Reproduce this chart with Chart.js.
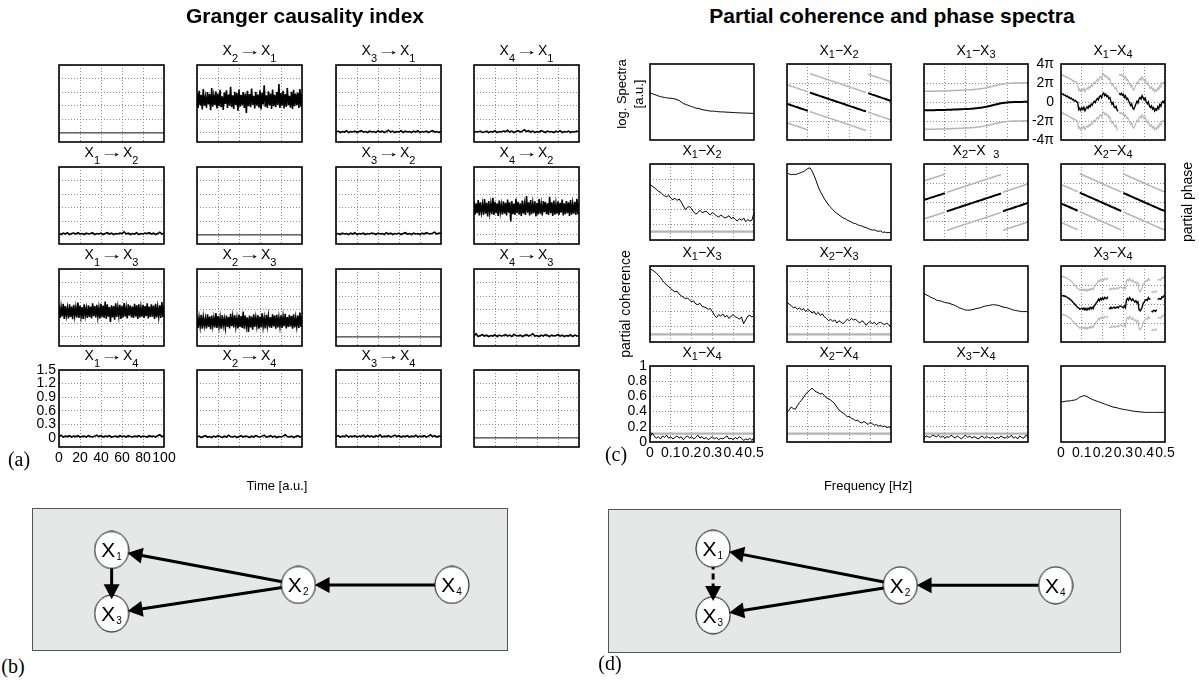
<!DOCTYPE html>
<html><head><meta charset="utf-8">
<script src="https://cdn.jsdelivr.net/npm/chart.js@4.4.1/dist/chart.umd.min.js"></script>
<style>
html,body{margin:0;padding:0;width:1199px;height:683px;overflow:hidden;background:#fff;position:relative}
.lbl{position:absolute;white-space:nowrap;font-family:"Liberation Sans",Arial,Helvetica,sans-serif;color:#000}
.lbl sub{line-height:0}
.arr{display:inline-block;font-size:15px;line-height:0;transform:scaleX(1.55);margin:0 4px}
.serif{font-family:"Liberation Serif","Times New Roman",serif}
</style></head><body>
<script>
// ---------------- DATA ----------------
// Granger causality index (time 0..100, a.u.)
const GC_TIME_TICKS = [0, 20, 40, 60, 80, 100];
const GC_Y_TICKS = [0, 0.3, 0.6, 0.9, 1.2, 1.5];
const GC_Y_LABELS = ['0', '0.3', '0.6', '0.9', '1.2', '1.5'];
const GC_SELF = [0, 0];
const GC_2to1 = [0.88,0.55,0.93,0.61,0.84,0.52,0.97,0.60,0.79,0.56,0.90,0.63,0.86,0.50,0.99,0.58,0.82,0.62,0.92,0.54,
0.87,0.59,0.95,0.57,0.81,0.51,0.89,0.64,0.94,0.55,0.85,0.60,1.02,0.57,0.83,0.53,0.91,0.62,0.88,0.49,
0.96,0.58,0.84,0.61,0.90,0.55,0.87,0.44,0.93,0.59,0.86,0.57,0.98,0.62,0.82,0.54,0.91,0.60,0.85,0.56,
0.94,0.52,0.89,0.63,1.05,0.58,0.83,0.55,0.92,0.61,0.87,0.53,0.96,0.59,0.84,0.57,0.90,0.62,1.08,0.55,
0.88,0.60,0.93,0.54,0.86,0.58,0.99,0.61,0.82,0.56,0.91,0.53,0.95,0.59,0.87,0.62,0.89,0.55,0.97,0.58,0.86];
const GC_3to1 = [0.02,0.04,0.01,0.03,0.02,0.05,0.01,0.03,0.02,0.04,0.01,0.03,0.05,0.02,0.03,0.01,0.04,0.02,0.03,0.01,0.05,0.02,0.04,0.01,0.03,0.06,0.02,0.04,0.01,0.03,0.02,0.05,0.01,0.04,0.02,0.03,0.01,0.04,0.02,0.05,0.01,0.03,0.02,0.04,0.01,0.03,0.05,0.02,0.03,0.01,0.04];
const GC_4to1 = [0.01,0.03,0.02,0.04,0.01,0.02,0.04,0.01,0.03,0.02,0.05,0.01,0.03,0.02,0.04,0.03,0.06,0.02,0.04,0.01,0.03,0.05,0.02,0.04,0.07,0.03,0.05,0.02,0.04,0.01,0.03,0.02,0.05,0.03,0.01,0.04,0.02,0.03,0.01,0.04,0.02,0.05,0.01,0.03,0.02,0.04,0.01,0.03,0.02,0.04,0.02];
const GC_1to2 = [0.03,0.01,0.04,0.02,0.05,0.01,0.03,0.04,0.02,0.05,0.02,0.03,0.01,0.04,0.02,0.03,0.05,0.01,0.03,0.02,0.04,0.01,0.03,0.05,0.02,0.04,0.01,0.03,0.02,0.04,0.03,0.07,0.02,0.04,0.01,0.03,0.02,0.05,0.01,0.03,0.02,0.04,0.03,0.05,0.02,0.04,0.01,0.03,0.06,0.02,0.04];
const GC_3to2 = [0.02,0.03,0.01,0.04,0.02,0.03,0.01,0.04,0.02,0.05,0.01,0.03,0.02,0.04,0.01,0.03,0.02,0.04,0.03,0.01,0.04,0.02,0.03,0.01,0.05,0.02,0.04,0.01,0.03,0.02,0.04,0.01,0.03,0.05,0.02,0.03,0.01,0.04,0.02,0.03,0.01,0.04,0.02,0.05,0.03,0.02,0.04,0.06,0.02,0.04,0.03];
const GC_4to2 = [0.74,0.45,0.70,0.48,0.77,0.43,0.72,0.50,0.68,0.44,0.79,0.47,0.71,0.41,0.75,0.49,0.69,0.46,0.82,0.44,
0.73,0.48,0.70,0.42,0.76,0.50,0.67,0.45,0.74,0.47,0.71,0.43,0.78,0.49,0.72,0.30,0.75,0.46,0.69,0.44,
0.80,0.48,0.73,0.45,0.70,0.42,0.76,0.47,0.68,0.44,0.86,0.49,0.72,0.43,0.77,0.46,0.70,0.48,0.74,0.41,
0.71,0.45,0.79,0.47,0.68,0.43,0.75,0.50,0.73,0.46,0.70,0.44,0.84,0.48,0.72,0.42,0.76,0.45,0.69,0.47,
0.74,0.44,0.71,0.49,0.78,0.43,0.70,0.46,0.75,0.48,0.72,0.42,0.77,0.45,0.69,0.47,0.73,0.44,0.80,0.46,0.71];
const GC_1to3 = [0.70,0.42,0.66,0.45,0.73,0.40,0.68,0.47,0.64,0.41,0.72,0.44,0.67,0.39,0.71,0.46,0.65,0.43,0.76,0.42,
0.69,0.45,0.66,0.40,0.72,0.47,0.63,0.42,0.70,0.44,0.67,0.41,0.74,0.46,0.68,0.43,0.71,0.45,0.65,0.41,
0.73,0.44,0.69,0.42,0.78,0.40,0.72,0.45,0.66,0.33,0.70,0.43,0.68,0.38,0.74,0.44,0.66,0.46,0.71,0.40,
0.68,0.43,0.75,0.45,0.65,0.41,0.72,0.47,0.69,0.43,0.67,0.42,0.73,0.45,0.70,0.40,0.72,0.43,0.66,0.45,
0.71,0.42,0.68,0.46,0.74,0.41,0.67,0.44,0.72,0.45,0.69,0.40,0.73,0.43,0.66,0.45,0.70,0.42,0.77,0.44,0.68];
const GC_2to3 = [0.46,0.20,0.43,0.23,0.49,0.18,0.44,0.25,0.41,0.19,0.50,0.22,0.45,0.17,0.47,0.24,0.42,0.21,0.53,0.20,
0.46,0.23,0.43,0.18,0.48,0.25,0.40,0.20,0.47,0.22,0.44,0.19,0.51,0.24,0.45,0.21,0.48,0.23,0.42,0.19,
0.49,0.22,0.46,0.20,0.56,0.18,0.47,0.23,0.43,0.11,0.47,0.21,0.45,0.16,0.50,0.22,0.43,0.24,0.48,0.18,
0.45,0.21,0.52,0.23,0.42,0.19,0.49,0.25,0.46,0.21,0.44,0.20,0.50,0.23,0.47,0.18,0.49,0.21,0.43,0.23,
0.48,0.20,0.45,0.24,0.51,0.19,0.44,0.22,0.49,0.23,0.46,0.18,0.50,0.21,0.43,0.23,0.47,0.20,0.54,0.22,0.45];
const GC_4to3 = [0.02,0.07,0.01,0.03,0.05,0.02,0.04,0.01,0.03,0.02,0.05,0.01,0.04,0.02,0.03,0.05,0.02,0.04,0.01,0.06,0.03,0.02,0.04,0.01,0.03,0.05,0.02,0.04,0.07,0.02,0.03,0.01,0.04,0.02,0.05,0.03,0.01,0.04,0.02,0.03,0.05,0.02,0.04,0.01,0.03,0.02,0.05,0.01,0.04,0.02,0.03];
const GC_1to4 = [0.03,0.06,0.02,0.04,0.03,0.05,0.02,0.04,0.03,0.05,0.02,0.03,0.04,0.02,0.05,0.03,0.02,0.04,0.06,0.03,0.05,0.02,0.04,0.03,0.05,0.02,0.03,0.04,0.02,0.05,0.03,0.04,0.02,0.05,0.03,0.02,0.04,0.03,0.05,0.02,0.04,0.03,0.02,0.05,0.03,0.04,0.02,0.05,0.07,0.03,0.04];
const GC_2to4 = [0.02,0.04,0.01,0.03,0.05,0.02,0.03,0.01,0.04,0.02,0.05,0.03,0.01,0.04,0.02,0.06,0.03,0.02,0.04,0.01,0.03,0.05,0.02,0.04,0.03,0.01,0.04,0.02,0.05,0.03,0.02,0.04,0.06,0.02,0.03,0.05,0.02,0.04,0.01,0.03,0.02,0.04,0.07,0.03,0.02,0.04,0.01,0.03,0.05,0.02,0.04];
const GC_3to4 = [0.03,0.05,0.02,0.04,0.03,0.06,0.02,0.04,0.03,0.05,0.02,0.04,0.03,0.06,0.02,0.05,0.03,0.04,0.02,0.05,0.03,0.07,0.02,0.04,0.03,0.05,0.02,0.04,0.06,0.03,0.05,0.02,0.04,0.03,0.05,0.02,0.04,0.03,0.06,0.02,0.04,0.03,0.05,0.02,0.04,0.07,0.03,0.05,0.02,0.04,0.03];

// Partial coherence / phase spectra (frequency 0..0.5 Hz)
const FREQ_TICKS = [0, 0.1, 0.2, 0.3, 0.4, 0.5];
const FREQ_LABELS = ['0', '0.1', '0.2', '0.3', '0.4', '0.5'];
const COH_TICKS = [0, 0.2, 0.4, 0.6, 0.8, 1];
const COH_LABELS = ['0', '0.2', '0.4', '0.6', '0.8', '1'];
const PHASE_TICKS = [-4, -2, 0, 2, 4];           // in units of pi
const PHASE_LABELS = ['-4π', '-2π', '0', '2π', '4π'];

const PSD_1 = [0.62,0.61,0.60,0.59,0.58,0.57,0.565,0.56,0.555,0.55,0.55,0.545,0.54,0.53,0.52,0.50,0.48,0.47,0.46,0.45,
0.44,0.43,0.42,0.415,0.41,0.40,0.395,0.39,0.385,0.38,0.38,0.378,0.375,0.372,0.37,0.37,0.368,0.366,0.365,0.363,
0.362,0.36,0.358,0.357,0.356,0.355,0.354,0.353,0.352,0.351,0.35];
const PSD_2 = [0.88,0.87,0.86,0.865,0.86,0.87,0.88,0.89,0.90,0.92,0.94,0.95,0.91,0.85,0.78,0.70,0.64,0.59,0.54,0.50,
0.46,0.43,0.40,0.37,0.35,0.33,0.31,0.29,0.28,0.26,0.25,0.235,0.22,0.215,0.20,0.19,0.185,0.17,0.165,0.15,
0.14,0.13,0.135,0.12,0.115,0.12,0.10,0.105,0.095,0.10,0.09];
const PSD_3 = [0.64,0.62,0.61,0.59,0.58,0.57,0.55,0.545,0.54,0.53,0.52,0.515,0.51,0.50,0.49,0.48,0.465,0.45,0.44,0.43,
0.42,0.42,0.42,0.425,0.43,0.44,0.445,0.45,0.46,0.47,0.475,0.48,0.485,0.49,0.49,0.485,0.48,0.47,0.46,0.455,
0.45,0.44,0.43,0.42,0.415,0.41,0.405,0.40,0.40,0.40,0.40];
const PSD_4 = [0.53,0.53,0.535,0.54,0.54,0.545,0.55,0.555,0.57,0.59,0.60,0.61,0.605,0.59,0.575,0.56,0.55,0.54,0.53,0.52,
0.51,0.50,0.49,0.48,0.47,0.46,0.455,0.45,0.44,0.435,0.43,0.425,0.42,0.415,0.41,0.405,0.40,0.40,0.395,0.395,
0.39,0.39,0.39,0.39,0.39,0.39,0.39,0.39,0.39,0.39,0.39];

const PCOH_12 = [0.73,0.71,0.69,0.67,0.64,0.63,0.60,0.58,0.57,0.59,0.55,0.53,0.55,0.52,0.54,0.50,0.45,0.40,0.43,0.44,
0.41,0.37,0.34,0.36,0.39,0.36,0.37,0.38,0.35,0.33,0.36,0.34,0.32,0.30,0.33,0.31,0.29,0.30,0.32,0.28,
0.30,0.27,0.25,0.28,0.26,0.29,0.24,0.27,0.25,0.26,0.36];
const PCOH_13 = [0.96,0.95,0.93,0.91,0.88,0.85,0.81,0.78,0.75,0.73,0.70,0.68,0.66,0.67,0.63,0.61,0.59,0.57,0.58,0.55,
0.53,0.54,0.50,0.49,0.51,0.47,0.46,0.45,0.43,0.44,0.40,0.35,0.32,0.36,0.34,0.37,0.33,0.35,0.31,0.34,
0.36,0.33,0.32,0.30,0.33,0.24,0.29,0.34,0.35,0.33,0.35];
const PCOH_14 = [0.06,0.12,0.08,0.05,0.07,0.04,0.08,0.06,0.09,0.05,0.07,0.04,0.06,0.08,0.05,0.07,0.03,0.06,0.08,0.05,
0.07,0.04,0.06,0.09,0.05,0.07,0.04,0.06,0.03,0.05,0.07,0.04,0.06,0.03,0.05,0.04,0.06,0.08,0.04,0.05,
0.03,0.06,0.04,0.07,0.05,0.02,0.04,0.03,0.05,0.02,0.06];
const PCOH_23 = [0.52,0.50,0.48,0.45,0.46,0.43,0.45,0.42,0.44,0.40,0.43,0.41,0.38,0.40,0.36,0.39,0.35,0.37,0.33,0.31,
0.28,0.30,0.27,0.29,0.25,0.28,0.26,0.24,0.27,0.30,0.28,0.31,0.29,0.30,0.27,0.25,0.28,0.26,0.22,0.25,
0.27,0.24,0.26,0.23,0.25,0.26,0.24,0.23,0.25,0.22,0.21];
const PCOH_24 = [0.39,0.42,0.46,0.44,0.43,0.48,0.52,0.55,0.59,0.63,0.66,0.68,0.71,0.68,0.66,0.65,0.63,0.64,0.61,0.58,
0.57,0.55,0.53,0.50,0.46,0.42,0.40,0.38,0.36,0.33,0.34,0.31,0.30,0.28,0.29,0.26,0.25,0.27,0.25,0.23,
0.26,0.24,0.22,0.23,0.21,0.22,0.20,0.21,0.19,0.20,0.18];
const PCOH_34 = [0.05,0.08,0.07,0.06,0.09,0.08,0.07,0.09,0.06,0.08,0.05,0.07,0.06,0.09,0.07,0.05,0.08,0.06,0.04,0.07,
0.09,0.06,0.08,0.05,0.07,0.06,0.04,0.06,0.08,0.05,0.07,0.06,0.05,0.07,0.04,0.06,0.05,0.08,0.06,0.05,
0.07,0.06,0.09,0.05,0.07,0.04,0.08,0.06,0.05,0.09,0.07];
const SIG_12 = 0.11, SIG_13 = 0.10, SIG_14 = 0.11, SIG_23 = 0.10, SIG_24 = 0.11, SIG_34 = 0.11;

// partial phase, wrapped to [-pi, pi], in units of pi
const PHASE_12 = [-0.19,-0.26,-0.34,-0.41,-0.49,-0.56,-0.63,-0.71,-0.78,-0.86,-0.93,0.99,0.92,0.84,0.77,0.70,0.62,0.55,0.47,0.40,
0.33,0.25,0.18,0.10,0.03,-0.04,-0.12,-0.19,-0.26,-0.34,-0.41,-0.49,-0.56,-0.63,-0.71,-0.78,-0.86,-0.93,-0.99,0.93,
0.86,0.78,0.71,0.64,0.56,0.49,0.41,0.34,0.27,0.19,0.12];
const PHASE_13 = [-0.88,-0.88,-0.87,-0.87,-0.86,-0.86,-0.85,-0.85,-0.84,-0.84,-0.83,-0.82,-0.82,-0.81,-0.80,-0.79,-0.78,-0.77,-0.76,-0.75,
-0.74,-0.73,-0.72,-0.70,-0.68,-0.66,-0.64,-0.61,-0.58,-0.54,-0.50,-0.45,-0.40,-0.34,-0.28,-0.23,-0.18,-0.14,-0.10,-0.07,
-0.05,-0.03,-0.02,-0.01,0.00,0.00,0.01,0.01,0.02,0.02,0.02];
const PHASE_14 = [0.92,0.80,0.86,0.70,0.74,0.58,0.64,0.46,0.52,0.35,0.40,0.22,0.28,0.10,0.16,0.02,-0.03,-0.80,-0.65,-0.88,
-0.62,-0.80,-0.55,-0.92,-0.68,-0.50,-0.66,-0.38,-0.52,-0.22,-0.34,-0.08,0.08,-0.06,0.24,0.38,0.22,0.58,0.66,0.44,
0.84,0.95,0.68,0.82,0.56,0.66,0.34,0.46,0.05,-0.24,-0.06,-0.48,-0.62,-0.46,-0.88,-0.98,0.93,0.78,0.92,0.70,
0.82,0.48,0.66,0.28,0.40,0.12,-0.14,-0.38,-0.20,-0.64,-0.76,-0.50,-0.22,0.08,-0.10,0.32,0.48,0.30,0.66,0.44,
0.22,0.40,0.02,-0.18,0.02,-0.44,-0.58,-0.40,-0.74,-0.58,-0.94,-0.72,-0.86,-0.50,-0.70,-0.26,-0.44,-0.06,0.08,-0.10,0.22];
const PHASE_23 = [0.22,0.29,0.36,0.43,0.50,0.57,0.64,0.71,0.78,0.86,0.93,-0.98,-0.91,-0.84,-0.77,-0.69,-0.62,-0.55,-0.48,-0.40,
-0.33,-0.26,-0.19,-0.12,-0.04,0.03,0.10,0.17,0.24,0.32,0.39,0.46,0.53,0.61,0.68,0.75,0.82,0.90,-0.97,-0.90,
-0.82,-0.75,-0.68,-0.61,-0.53,-0.46,-0.39,-0.31,-0.24,-0.17,-0.10];
const PHASE_24 = [-0.15,-0.25,-0.34,-0.44,-0.53,-0.63,-0.73,-0.82,-0.92,0.98,0.89,0.79,0.69,0.60,0.50,0.40,0.31,0.21,0.11,0.02,
-0.08,-0.18,-0.27,-0.37,-0.47,-0.56,-0.66,-0.76,-0.85,-0.95,0.95,0.86,0.76,0.66,0.57,0.47,0.37,0.28,0.18,0.08,
-0.01,-0.11,-0.21,-0.30,-0.40,-0.50,-0.59,-0.69,-0.79,-0.86,-0.92];
const PHASE_34 = [0.92,0.86,0.90,0.80,0.85,0.74,0.72,0.60,0.58,0.44,0.40,0.24,0.12,0.02,-0.14,-0.20,-0.38,-0.40,-0.54,-0.52,
-0.44,-0.56,-0.42,-0.62,-0.46,-0.64,-0.44,-0.58,-0.36,-0.52,-0.34,-0.48,-0.16,-0.08,0.14,0.26,0.50,0.34,0.60,0.44,
0.64,0.48,0.70,0.62,0.56,0.78,-0.42,-0.50,-0.34,-0.48,-0.40,-0.32,-0.46,-0.38,-0.30,-0.42,-0.26,-0.20,-0.24,-0.32,
-0.38,-0.22,-0.40,0.44,0.58,0.42,0.68,0.50,0.36,0.54,0.36,0.22,0.34,0.12,0.24,-0.58,-0.72,-0.56,-0.34,0.08,
0.18,0.40,0.46,0.38,0.68,0.50,0.54,-0.74,-0.82,-0.66,-0.70,-0.78,-0.58,0.48,0.58,0.54,0.50,0.74,0.70,0.88,0.95];

// Network graphs (node positions inside each box, px units)
const NET_B_X = [66.7, 268.7, 66.7, 434.7];
const NET_B_Y = [32, 78.7, 117, 78.7];
const NET_B_EDGES = [[2, 1, 0], [2, 3, 0], [4, 2, 0], [1, 3, 0]];   // from, to, dashed
const NET_D_X = [93.7, 295, 93.7, 462];
const NET_D_Y = [29, 77.7, 117.7, 77.7];
const NET_D_EDGES = [[2, 1, 0], [2, 3, 0], [4, 2, 0], [1, 3, 1]];

// ---------------- RENDERING ----------------
const FAM = '"Liberation Sans", Arial, Helvetica, sans-serif';
Chart.defaults.font.family = FAM;
Chart.defaults.color = '#000';

function addLabel(html, x, y, css) {
  const d = document.createElement('div');
  d.className = 'lbl';
  d.innerHTML = html;
  d.style.cssText = `left:${x}px;top:${y}px;` + (css || '');
  document.body.appendChild(d);
  return d;
}

const framePlugin = {
  id: 'frame',
  afterDraw(c) {
    const a = c.chartArea, ctx = c.ctx;
    ctx.save();
    ctx.strokeStyle = '#000'; ctx.lineWidth = 1.6;
    ctx.strokeRect(a.left, a.top, a.right - a.left, a.bottom - a.top);
    ctx.restore();
  }
};

function series(vals, x0, x1, shift) {
  const n = vals.length, pts = [];
  for (let i = 0; i < n; i++) {
    const x = x0 + (x1 - x0) * i / (n - 1);
    if (i > 0 && Math.abs(vals[i] - vals[i - 1]) > 1) pts.push({ x: x - (x1 - x0) / (n - 1) / 2, y: null });
    pts.push({ x, y: vals[i] + (shift || 0) });
  }
  return pts;
}
function line(data, color, width) {
  return { data, borderColor: color, borderWidth: width, pointRadius: 0, fill: false, tension: 0, spanGaps: false };
}

function makePanel(box, o) {
  const L = 46, T = 10, R = 20, B = 24;
  const W = box.w + L + R, H = box.h + T + B;
  const cv = document.createElement('canvas');
  cv.width = W; cv.height = H;
  cv.style.cssText = `position:absolute;left:${box.x - L}px;top:${box.y - T}px;width:${W}px;height:${H}px`;
  document.body.appendChild(cv);
  const axis = (ticks, labels, min, max, isX, pad) => ({
    type: 'linear', display: true, min, max,
    afterBuildTicks: s => { s.ticks = ticks.map(v => ({ value: v })); },
    afterFit: s => {
      if (isX) s.height = B; else s.width = L;
      s.paddingLeft = 0; s.paddingRight = 0; s.paddingTop = 0; s.paddingBottom = 0;
    },
    grid: { display: o.grid, color: '#8c8c8c', lineWidth: 1, drawTicks: false },
    border: { display: false, dash: [1, 2] },
    ticks: { display: !!labels, autoSkip: false, maxRotation: 0, minRotation: 0, padding: pad, color: '#000',
      font: { size: 14, family: FAM }, callback: (v, i) => labels ? labels[i] : '' }
  });
  new Chart(cv, {
    type: 'line',
    data: { datasets: o.datasets },
    options: {
      responsive: false, animation: false, devicePixelRatio: 1, events: [],
      layout: { padding: { left: 0, top: T, right: R, bottom: 0 } },
      plugins: { legend: { display: false }, tooltip: { enabled: false } },
      scales: {
        x: axis(o.xt, o.xl, o.xmin, o.xmax, true, 3),
        y: axis(o.yt, o.yl, o.ymin, o.ymax, false, o.ypad || 3)
      }
    },
    plugins: [framePlugin]
  });
}

const SUB_L = 'style="font-size:11px;vertical-align:-7px"';
const SUB_R = 'style="font-size:11px;vertical-align:-3px"';

// ---- Granger causality block (row = target, column = source)
const GC_COL_X = [59, 197, 336, 474], GC_ROW_Y = [65, 167, 269, 370];
const GC_SERIES = [
  [GC_SELF, GC_2to1, GC_3to1, GC_4to1],
  [GC_1to2, GC_SELF, GC_3to2, GC_4to2],
  [GC_1to3, GC_2to3, GC_SELF, GC_4to3],
  [GC_1to4, GC_2to4, GC_3to4, GC_SELF]
];
for (let r = 0; r < 4; r++) for (let c = 0; c < 4; c++) {
  const box = { x: GC_COL_X[c], y: GC_ROW_Y[r], w: 105, h: 77 };
  const diag = r === c;
  const bottomLeft = r === 3 && c === 0;
  makePanel(box, {
    grid: true,
    datasets: [line(series(GC_SERIES[r][c], 0, 100), diag ? '#444' : '#000', diag ? 1.2 : 1.6)],
    xt: GC_TIME_TICKS, xl: bottomLeft ? GC_TIME_TICKS.map(String) : null, xmin: 0, xmax: 100,
    yt: GC_Y_TICKS, yl: bottomLeft ? GC_Y_LABELS : null, ymin: -0.2, ymax: 1.5, ypad: 3
  });
  if (!diag) addLabel(`X<sub ${SUB_L}>${c + 1}</sub><span class="arr">→</span>X<sub ${SUB_L}>${r + 1}</sub>`,
    box.x + box.w / 2, box.y - 23, 'transform:translateX(-50%);font-size:14px;line-height:16px');
}

// ---- Partial coherence / phase block
const PC_COL_X = [650, 787, 924, 1061], PC_ROW_Y = [64, 164, 266, 366];
const PSD = [PSD_1, PSD_2, PSD_3, PSD_4];
const PCOH = { '1-2': [PCOH_12, SIG_12], '1-3': [PCOH_13, SIG_13], '1-4': [PCOH_14, SIG_14],
               '2-3': [PCOH_23, SIG_23], '2-4': [PCOH_24, SIG_24], '3-4': [PCOH_34, SIG_34] };
const PHASE = { '1-2': PHASE_12, '1-3': PHASE_13, '1-4': PHASE_14, '2-3': PHASE_23, '2-4': PHASE_24, '3-4': PHASE_34 };
for (let r = 0; r < 4; r++) for (let c = 0; c < 4; c++) {
  const box = { x: PC_COL_X[c], y: PC_ROW_Y[r], w: 104, h: 76 };
  const o = { xt: FREQ_TICKS, xl: null, xmin: 0, xmax: 0.5 };
  if (r === c) {
    Object.assign(o, { grid: false, datasets: [line(series(PSD[r], 0, 0.5), '#000', 1)],
      yt: [0, 1], yl: null, ymin: 0, ymax: 1 });
    if (r === 3) o.xl = FREQ_LABELS;
  } else if (r > c) {
    const [vals, sig] = PCOH[(c + 1) + '-' + (r + 1)];
    Object.assign(o, { grid: true, datasets: [
        line(series(vals, 0, 0.5), '#000', 1),
        line([{ x: 0, y: sig }, { x: 0.5, y: sig }], '#b4b4b4', 2.2)],
      yt: COH_TICKS, yl: null, ymin: 0, ymax: 1 });
    if (r === 3 && c === 0) { o.xl = FREQ_LABELS; o.yl = COH_LABELS; o.ypad = 3; }
  } else {
    const key = (r + 1) + '-' + (c + 1);
    const vals = PHASE[key];
    const noisy = vals.length > 60;
    Object.assign(o, { grid: true, datasets: [
        line(series(vals, 0, 0.5), '#000', noisy ? 1.4 : 2),
        line(series(vals, 0, 0.5, 2), '#b4b4b4', noisy ? 1.1 : 1.5),
        line(series(vals, 0, 0.5, -2), '#b4b4b4', noisy ? 1.1 : 1.5)],
      yt: PHASE_TICKS, yl: null, ymin: -4, ymax: 4 });
    if (r === 0 && c === 3) { o.yl = PHASE_LABELS; o.ypad = 7; }
  }
  makePanel(box, o);
  if (r !== c) {
    const a = Math.min(r, c) + 1, b = Math.max(r, c) + 1;
    const gap = (r === 1 && c === 2) ? '&nbsp;&nbsp;' : '';
    addLabel(`X<sub ${SUB_R}>${a}</sub>−X${gap}<sub ${SUB_R}>${b}</sub>`,
      box.x + box.w / 2, box.y - 22, 'transform:translateX(-50%);font-size:14px;line-height:16px');
  }
}

// ---- Network diagrams
const RX = 17, RY = 18.5, HEAD = 15, HALF = 8;
function ellR(ux, uy) { return 1 / Math.sqrt((ux / RX) ** 2 + (uy / RY) ** 2); }
function nodeImage() {
  const cv = document.createElement('canvas');
  cv.width = 2 * RX + 2; cv.height = 2 * RY + 2;
  const g = cv.getContext('2d');
  g.beginPath(); g.ellipse(RX + 1, RY + 1, RX, RY, 0, 0, Math.PI * 2);
  g.fillStyle = '#fff'; g.fill(); g.strokeStyle = '#000'; g.lineWidth = 1; g.stroke();
  return cv;
}
function makeNet(box, xs, ys, edges) {
  const cv = document.createElement('canvas');
  cv.width = box.w; cv.height = box.h;
  cv.style.cssText = `position:absolute;left:${box.x}px;top:${box.y}px;width:${box.w}px;height:${box.h}px`;
  document.body.appendChild(cv);
  const nodes = xs.map((x, i) => ({ x, y: ys[i] }));
  const arrows = edges.map(([f, t, dashed]) => {
    const a = nodes[f - 1], b = nodes[t - 1];
    const dx = b.x - a.x, dy = b.y - a.y, len = Math.hypot(dx, dy), ux = dx / len, uy = dy / len;
    const rs = ellR(ux, uy) + 1, re = ellR(ux, uy) + 0.5;
    const start = { x: a.x + ux * rs, y: a.y + uy * rs };
    const tip = { x: b.x - ux * re, y: b.y - uy * re };
    const shaftEnd = { x: tip.x - ux * (HEAD - 2), y: tip.y - uy * (HEAD - 2) };
    return { start, tip, shaftEnd, dashed };
  });
  const img = nodeImage();
  const netPlugin = {
    id: 'net',
    beforeDraw(c) {
      const ctx = c.ctx;
      ctx.save(); ctx.fillStyle = '#e6e7e7'; ctx.fillRect(0, 0, c.width, c.height);
      ctx.strokeStyle = '#555'; ctx.lineWidth = 1; ctx.strokeRect(0.5, 0.5, c.width - 1, c.height - 1); ctx.restore();
    },
    afterDatasetsDraw(c) {
      const ctx = c.ctx, sx = c.scales.x, sy = c.scales.y;
      ctx.save();
      arrows.forEach(a => {
        const tx = sx.getPixelForValue(a.tip.x), ty = sy.getPixelForValue(a.tip.y);
        const bx = sx.getPixelForValue(a.shaftEnd.x), by = sy.getPixelForValue(a.shaftEnd.y);
        const L = Math.hypot(tx - bx, ty - by), ux = (tx - bx) / L, uy = (ty - by) / L;
        const backX = tx - ux * HEAD, backY = ty - uy * HEAD;
        ctx.beginPath(); ctx.moveTo(tx, ty);
        ctx.lineTo(backX - uy * HALF, backY + ux * HALF);
        ctx.lineTo(backX + uy * HALF, backY - ux * HALF);
        ctx.closePath(); ctx.fillStyle = '#000'; ctx.fill();
      });
      ctx.fillStyle = '#000';
      nodes.forEach((n, i) => {
        const px = sx.getPixelForValue(n.x), py = sy.getPixelForValue(n.y);
        ctx.font = '21px ' + FAM; ctx.textAlign = 'center'; ctx.textBaseline = 'alphabetic';
        ctx.fillText('X', px - 3.5, py + 7.5);
        ctx.font = '10px ' + FAM; ctx.textAlign = 'left';
        ctx.fillText(String(i + 1), px + 4.5, py + 10.5);
      });
      ctx.restore();
    }
  };
  const datasets = [{ type: 'scatter', data: nodes, pointStyle: img, pointRadius: RX, showLine: false }];
  arrows.forEach(a => datasets.push({ type: 'line', data: [a.start, a.shaftEnd], borderColor: '#000', borderWidth: 3,
    borderDash: a.dashed ? [6, 4] : [], pointRadius: 0, fill: false, tension: 0 }));
  new Chart(cv, {
    type: 'scatter', data: { datasets },
    options: {
      responsive: false, animation: false, devicePixelRatio: 1, events: [],
      layout: { padding: 0 },
      plugins: { legend: { display: false }, tooltip: { enabled: false } },
      scales: { x: { type: 'linear', display: false, min: 0, max: box.w },
                y: { type: 'linear', display: false, min: 0, max: box.h, reverse: true } }
    },
    plugins: [netPlugin]
  });
}
makeNet({ x: 32, y: 508, w: 476, h: 143 }, NET_B_X, NET_B_Y, NET_B_EDGES);
makeNet({ x: 608, y: 509, w: 513, h: 144 }, NET_D_X, NET_D_Y, NET_D_EDGES);

// ---- Texts
addLabel('Granger causality index', 305, 4, 'transform:translateX(-50%);font-size:21px;font-weight:bold;line-height:24px');
addLabel('Partial coherence and phase spectra', 892, 4, 'transform:translateX(-50%);font-size:21px;font-weight:bold;line-height:24px');
addLabel('Time [a.u.]', 277, 485, 'transform:translate(-50%,-50%);font-size:13px');
addLabel('Frequency [Hz]', 868, 485, 'transform:translate(-50%,-50%);font-size:13px');
addLabel('log. Spectra', 621, 94, 'transform:translate(-50%,-50%) rotate(-90deg);font-size:13px');
addLabel('[a.u.]', 638, 94, 'transform:translate(-50%,-50%) rotate(-90deg);font-size:13px');
addLabel('partial coherence', 625, 304, 'transform:translate(-50%,-50%) rotate(-90deg);font-size:14px');
addLabel('partial phase', 1187, 202, 'transform:translate(-50%,-50%) rotate(-90deg);font-size:14px');
addLabel('(a)', 19, 459, 'transform:translate(-50%,-50%);font-size:20px').classList.add('serif');
addLabel('(c)', 616, 454, 'transform:translate(-50%,-50%);font-size:20px').classList.add('serif');
addLabel('(b)', 13, 666, 'transform:translate(-50%,-50%);font-size:20px').classList.add('serif');
addLabel('(d)', 610, 663, 'transform:translate(-50%,-50%);font-size:20px').classList.add('serif');
</script>
</body></html>
